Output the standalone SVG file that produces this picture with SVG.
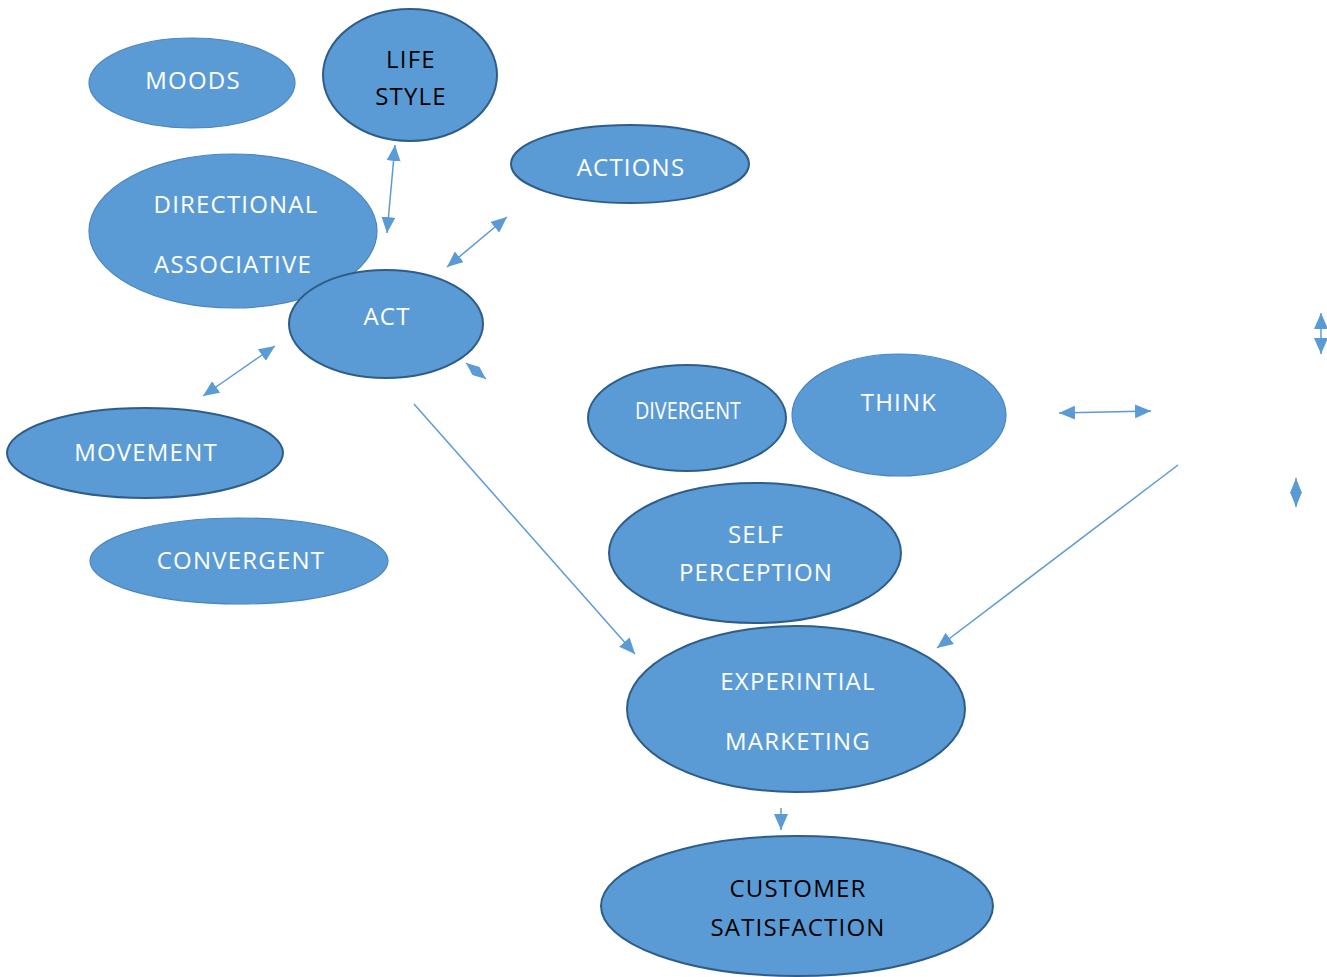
<svg xmlns="http://www.w3.org/2000/svg" width="1327" height="977" viewBox="0 0 1327 977">
  <defs>
    <marker id="head" viewBox="0 0 16 14" refX="16" refY="7" markerWidth="16" markerHeight="14" markerUnits="userSpaceOnUse" orient="auto-start-reverse">
      <path d="M0,0 L16,7 L0,14 z" fill="#5B9BD5"/>
    </marker>
    <marker id="small" viewBox="0 0 13 11" refX="13" refY="5.5" markerWidth="13" markerHeight="11" markerUnits="userSpaceOnUse" orient="auto-start-reverse">
      <path d="M0,0 L13,5.5 L0,11 z" fill="#5B9BD5"/>
    </marker>
    <marker id="tip" viewBox="0 0 15 12" refX="15" refY="6" markerWidth="15" markerHeight="12" markerUnits="userSpaceOnUse" orient="auto-start-reverse">
      <path d="M0,0 L15,6 L0,12 z" fill="#5B9BD5"/>
    </marker>
  </defs>
  <style>
    .node { fill: #5B9BD5; stroke: #4A86C0; stroke-width: 1.2; }
    .node.dark { stroke: #2F5D8A; stroke-width: 2; }
    .label { font-family: "Open Sans", "Liberation Sans", sans-serif; font-size: 24px; letter-spacing: 1.2px; fill: #FFFFFF; text-anchor: middle; }
    .label.ink { fill: #000000; }
    .label.narrow { letter-spacing: 0; }
    .conn { stroke: #5B9BD5; stroke-width: 1.5; fill: none; }
  </style>
  <rect width="1327" height="977" fill="#FFFFFF"/>

  <g id="moods">
    <ellipse class="node" cx="192" cy="83" rx="103" ry="45"/>
    <text class="label" x="193" y="89">MOODS</text>
  </g>
  <g id="life-style">
    <ellipse class="node dark" cx="410" cy="75" rx="87" ry="66"/>
    <text class="label ink" x="411" y="68">LIFE</text>
    <text class="label ink" x="411" y="105">STYLE</text>
  </g>
  <g id="directional-associative">
    <ellipse class="node" cx="233" cy="231" rx="144" ry="77"/>
    <text class="label" x="236" y="213">DIRECTIONAL</text>
    <text class="label" x="233" y="273">ASSOCIATIVE</text>
  </g>
  <g id="actions">
    <ellipse class="node dark" cx="630" cy="164" rx="119" ry="39"/>
    <text class="label" x="631" y="176">ACTIONS</text>
  </g>
  <g id="act">
    <ellipse class="node dark" cx="386" cy="324" rx="97" ry="54"/>
    <text class="label" x="387" y="325">ACT</text>
  </g>
  <g id="divergent">
    <ellipse class="node dark" cx="687" cy="418" rx="99" ry="53"/>
    <text class="label narrow" x="688" y="419" textLength="106" lengthAdjust="spacingAndGlyphs">DIVERGENT</text>
  </g>
  <g id="think">
    <ellipse class="node" cx="899" cy="415" rx="107" ry="61"/>
    <text class="label" x="899" y="411">THINK</text>
  </g>
  <g id="movement">
    <ellipse class="node dark" cx="145" cy="453" rx="138" ry="45"/>
    <text class="label" x="146" y="461">MOVEMENT</text>
  </g>
  <g id="convergent">
    <ellipse class="node" cx="239" cy="561" rx="149" ry="43"/>
    <text class="label" x="241" y="569">CONVERGENT</text>
  </g>
  <g id="self-perception">
    <ellipse class="node dark" cx="755" cy="553" rx="146" ry="70"/>
    <text class="label" x="756" y="543">SELF</text>
    <text class="label" x="756" y="581">PERCEPTION</text>
  </g>
  <g id="experiential-marketing">
    <ellipse class="node dark" cx="796" cy="709" rx="169" ry="83"/>
    <text class="label" x="798" y="690">EXPERINTIAL</text>
    <text class="label" x="798" y="750">MARKETING</text>
  </g>
  <g id="customer-satisfaction">
    <ellipse class="node dark" cx="797" cy="906" rx="196" ry="70"/>
    <text class="label ink" x="798" y="897">CUSTOMER</text>
    <text class="label ink" x="798" y="936">SATISFACTION</text>
  </g>

  <g id="connectors">
    <line class="conn" x1="395" y1="145" x2="387" y2="233" marker-start="url(#head)" marker-end="url(#head)"/>
    <line class="conn" x1="447" y1="267" x2="507" y2="217" marker-start="url(#head)" marker-end="url(#head)"/>
    <line class="conn" x1="203" y1="396" x2="275" y2="346" marker-start="url(#head)" marker-end="url(#head)"/>
    <line class="conn" x1="466" y1="363" x2="486" y2="379" marker-start="url(#small)" marker-end="url(#small)"/>
    <line class="conn" x1="414" y1="404" x2="635" y2="654" marker-end="url(#head)"/>
    <line class="conn" x1="1059" y1="413" x2="1151" y2="411" marker-start="url(#head)" marker-end="url(#head)"/>
    <line class="conn" x1="1321" y1="313" x2="1321" y2="354" marker-start="url(#head)" marker-end="url(#head)"/>
    <line class="conn" x1="1296" y1="478" x2="1296" y2="507" marker-start="url(#tip)" marker-end="url(#tip)"/>
    <line class="conn" x1="1178" y1="465" x2="937" y2="648" marker-end="url(#head)"/>
    <line class="conn" x1="781" y1="808" x2="781" y2="830" marker-end="url(#head)"/>
  </g>
</svg>
